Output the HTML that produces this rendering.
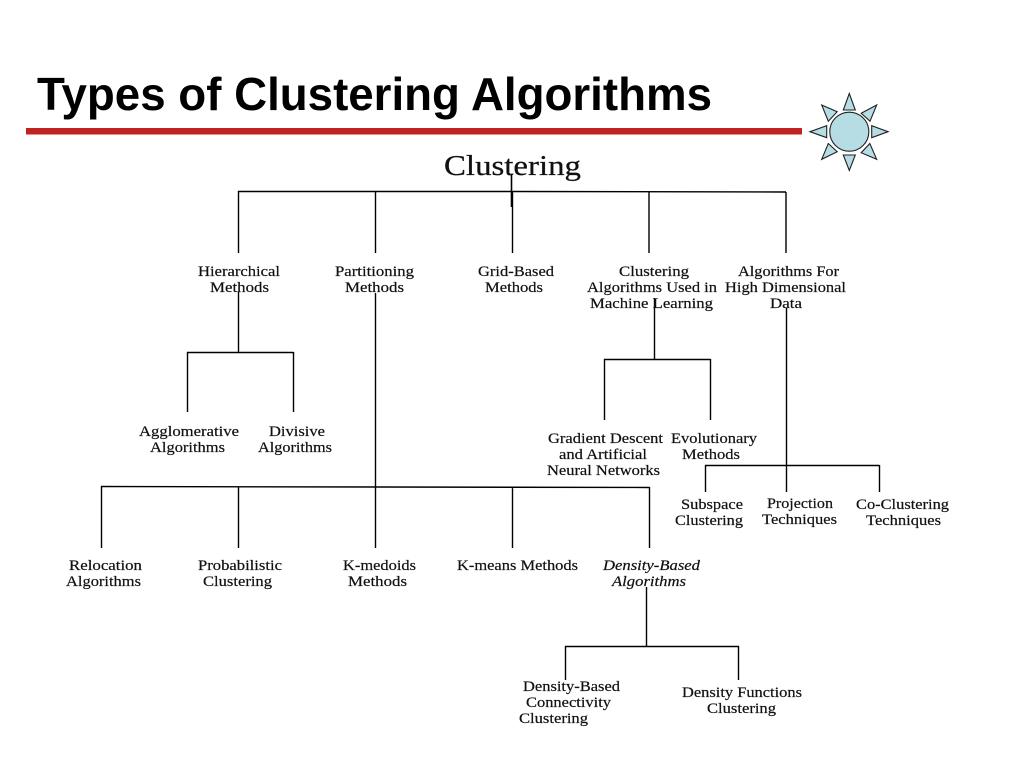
<!DOCTYPE html>
<html>
<head>
<meta charset="utf-8">
<title>Types of Clustering Algorithms</title>
<style>
html,body{margin:0;padding:0;background:#fff;width:1024px;height:768px;overflow:hidden}
svg{display:block}
.t{font-family:"Liberation Serif",serif;font-size:14.5px;fill:#111;stroke:#111;stroke-width:.2}
.i{font-style:italic}
.l{stroke:#000;stroke-width:1.4;fill:none}
.s{fill:#b5dde3;stroke:#222;stroke-width:1.1}
</style>
</head>
<body>
<svg width="1024" height="768" viewBox="0 0 1024 768" xmlns="http://www.w3.org/2000/svg">
<rect width="1024" height="768" fill="#fff"/>
<text x="37" y="110" font-family="'Liberation Sans',sans-serif" font-weight="700" font-size="46" fill="#000" textLength="675" lengthAdjust="spacingAndGlyphs">Types of Clustering Algorithms</text>
<rect x="26" y="128" width="776" height="6.5" fill="#c02222"/>

<g class="s">
<circle cx="849.3" cy="131.7" r="19.5"/>
<polygon points="849.3,93.5 843.3,110 855.3,110"/>
<polygon points="849.3,170.5 843.3,155 855.3,155"/>
<polygon points="810,131.7 826.7,125.7 826.7,137.7"/>
<polygon points="888,131.7 871.7,125.7 871.7,137.7"/>
<polygon points="876.7,105 861.2,113.3 870,121.2"/>
<polygon points="821.7,105 837.2,111.7 828.3,121.2"/>
<polygon points="821.7,159.3 828.3,143.5 837.2,151.7"/>
<polygon points="876.7,159.3 869.8,143.5 861.2,152.7"/>
</g>

<text x="444" y="175" font-family="'Liberation Serif',serif" font-size="29" fill="#111" stroke="#111" stroke-width=".25" textLength="137" lengthAdjust="spacingAndGlyphs">Clustering</text>

<g class="l">
<path d="M238 191.5H512L786 192"/>
<path d="M238.5 191V253M375.5 191V253M649 192V253M786 192V253"/>
<path d="M511.5 175V207" stroke-width="1.6"/>
<path d="M512.5 191V253"/>
<path d="M238.5 292V352M187 352.5H293.5M187.5 352V412M293.5 352V412"/>
<path d="M375.5 293V548"/>
<path d="M101 486.5L649.5 487.5M101.5 486V548M238.5 487V548M512.5 487V548M649.5 487V548"/>
<path d="M654.5 298V359M604 359.5H710.5M604.5 359V420M710.5 359V420"/>
<path d="M786.5 308V492"/>
<path d="M705 465.5H879.5M705.5 465V492M879.5 465V492"/>
<path d="M646.5 587V646M565 646.5H739M565.5 646V680M738.5 646V680"/>
</g>

<g class="t">
<text x="198" y="276" textLength="82" lengthAdjust="spacingAndGlyphs">Hierarchical</text>
<text x="210" y="292" textLength="59" lengthAdjust="spacingAndGlyphs">Methods</text>
<text x="335" y="276" textLength="79" lengthAdjust="spacingAndGlyphs">Partitioning</text>
<text x="345" y="292" textLength="59" lengthAdjust="spacingAndGlyphs">Methods</text>
<text x="478" y="276" textLength="76" lengthAdjust="spacingAndGlyphs">Grid-Based</text>
<text x="485" y="292" textLength="58" lengthAdjust="spacingAndGlyphs">Methods</text>
<text x="619" y="276" textLength="70" lengthAdjust="spacingAndGlyphs">Clustering</text>
<text x="587" y="292" textLength="130" lengthAdjust="spacingAndGlyphs">Algorithms Used in</text>
<text x="590" y="308" textLength="123" lengthAdjust="spacingAndGlyphs">Machine Learning</text>
<text x="738" y="276" textLength="101" lengthAdjust="spacingAndGlyphs">Algorithms For</text>
<text x="725" y="292" textLength="121" lengthAdjust="spacingAndGlyphs">High Dimensional</text>
<text x="770" y="308" textLength="32" lengthAdjust="spacingAndGlyphs">Data</text>

<text x="139" y="436" textLength="100" lengthAdjust="spacingAndGlyphs">Agglomerative</text>
<text x="150" y="452" textLength="75" lengthAdjust="spacingAndGlyphs">Algorithms</text>
<text x="269" y="436" textLength="56" lengthAdjust="spacingAndGlyphs">Divisive</text>
<text x="258" y="452" textLength="74" lengthAdjust="spacingAndGlyphs">Algorithms</text>

<text x="548" y="443" textLength="115" lengthAdjust="spacingAndGlyphs">Gradient Descent</text>
<text x="559" y="459" textLength="88" lengthAdjust="spacingAndGlyphs">and Artificial</text>
<text x="547" y="475" textLength="113" lengthAdjust="spacingAndGlyphs">Neural Networks</text>
<text x="671" y="443" textLength="86" lengthAdjust="spacingAndGlyphs">Evolutionary</text>
<text x="682" y="459" textLength="58" lengthAdjust="spacingAndGlyphs">Methods</text>

<text x="681" y="509" textLength="62" lengthAdjust="spacingAndGlyphs">Subspace</text>
<text x="675" y="525" textLength="68" lengthAdjust="spacingAndGlyphs">Clustering</text>
<text x="767" y="508" textLength="66" lengthAdjust="spacingAndGlyphs">Projection</text>
<text x="762" y="524" textLength="75" lengthAdjust="spacingAndGlyphs">Techniques</text>
<text x="856" y="509" textLength="93" lengthAdjust="spacingAndGlyphs">Co-Clustering</text>
<text x="866" y="525" textLength="75" lengthAdjust="spacingAndGlyphs">Techniques</text>

<text x="69" y="570" textLength="73" lengthAdjust="spacingAndGlyphs">Relocation</text>
<text x="66" y="586" textLength="75" lengthAdjust="spacingAndGlyphs">Algorithms</text>
<text x="198" y="570" textLength="84" lengthAdjust="spacingAndGlyphs">Probabilistic</text>
<text x="203" y="586" textLength="69" lengthAdjust="spacingAndGlyphs">Clustering</text>
<text x="343" y="570" textLength="73" lengthAdjust="spacingAndGlyphs">K-medoids</text>
<text x="348" y="586" textLength="59" lengthAdjust="spacingAndGlyphs">Methods</text>
<text x="457" y="570" textLength="121" lengthAdjust="spacingAndGlyphs">K-means Methods</text>
<text class="i" x="603" y="570" textLength="97" lengthAdjust="spacingAndGlyphs">Density-Based</text>
<text class="i" x="612" y="586" textLength="74" lengthAdjust="spacingAndGlyphs">Algorithms</text>

<text x="523" y="691" textLength="97" lengthAdjust="spacingAndGlyphs">Density-Based</text>
<text x="526" y="707" textLength="85" lengthAdjust="spacingAndGlyphs">Connectivity</text>
<text x="519" y="723" textLength="69" lengthAdjust="spacingAndGlyphs">Clustering</text>
<text x="682" y="697" textLength="120" lengthAdjust="spacingAndGlyphs">Density Functions</text>
<text x="707" y="713" textLength="69" lengthAdjust="spacingAndGlyphs">Clustering</text>
</g>
</svg>
</body>
</html>
